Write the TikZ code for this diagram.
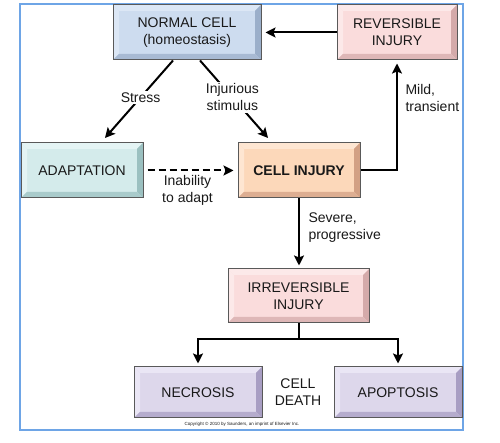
\documentclass[tikz,border=0pt]{standalone}
\usepackage{fontspec}
\setmainfont{Liberation Sans}
\usetikzlibrary{arrows.meta}
\definecolor{frameblue}{RGB}{110,165,230}
\definecolor{blueface}{RGB}{205,220,239}
\definecolor{bluelight}{RGB}{220,231,245}
\definecolor{bluedark}{RGB}{155,175,202}
\definecolor{pinkface}{RGB}{250,220,220}
\definecolor{pinklight}{RGB}{252,233,233}
\definecolor{pinkdark}{RGB}{212,170,170}
\definecolor{tealface}{RGB}{212,235,235}
\definecolor{teallight}{RGB}{228,244,244}
\definecolor{tealdark}{RGB}{155,192,192}
\definecolor{orangeface}{RGB}{252,216,186}
\definecolor{orangelight}{RGB}{254,230,210}
\definecolor{orangedark}{RGB}{210,160,132}
\definecolor{purpleface}{RGB}{221,215,235}
\definecolor{purplelight}{RGB}{234,230,245}
\definecolor{purpledark}{RGB}{168,158,195}
\definecolor{txt}{RGB}{25,25,25}
\tikzset{
  bevelbox/.style n args={3}{draw=black!65, line width=1pt, fill=#1, text=txt,
    align=center, inner sep=0pt, font=\fontsize{14}{17}\selectfont,
    path picture={
      \fill[#2] (path picture bounding box.north west) -- (path picture bounding box.north east)
        -- ([shift={(-6pt,-6pt)}]path picture bounding box.north east)
        -- ([shift={(6pt,-6pt)}]path picture bounding box.north west) -- cycle;
      \fill[#2] (path picture bounding box.north west) -- ([shift={(6pt,-6pt)}]path picture bounding box.north west)
        -- ([shift={(6pt,6pt)}]path picture bounding box.south west)
        -- (path picture bounding box.south west) -- cycle;
      \fill[#3] (path picture bounding box.north east) -- (path picture bounding box.south east)
        -- ([shift={(-6pt,6pt)}]path picture bounding box.south east)
        -- ([shift={(-6pt,-6pt)}]path picture bounding box.north east) -- cycle;
      \fill[#3!75!#1] (path picture bounding box.south west) -- (path picture bounding box.south east)
        -- ([shift={(-6pt,6pt)}]path picture bounding box.south east)
        -- ([shift={(6pt,6pt)}]path picture bounding box.south west) -- cycle;
    }},
  lbl/.style={font=\fontsize{14}{17}\selectfont, text=txt, align=center, inner sep=1.5pt},
  lblw/.style={lbl, fill=white},
  arr/.style={-{Stealth[length=10pt,width=10pt,inset=2pt]}, line width=2pt},
  conn/.style={line width=2pt}
}
\begin{document}
\begin{tikzpicture}[x=1pt,y=1pt]
\useasboundingbox (0,0) rectangle (500,443);
\fill[white] (0,0) rectangle (500,443);
\draw[frameblue, line width=1.5pt] (20,13) rectangle (463,439);

\node[bevelbox={blueface}{bluelight}{bluedark}, minimum width=148pt, minimum height=55pt] (normal) at (187,410.5) {NORMAL CELL\\(homeostasis)};
\node[bevelbox={pinkface}{pinklight}{pinkdark}, minimum width=120pt, minimum height=55pt] (rev) at (397,410.5) {REVERSIBLE\\INJURY};
\node[bevelbox={tealface}{teallight}{tealdark}, minimum width=122pt, minimum height=55pt] (adapt) at (82,272.5) {ADAPTATION};
\node[bevelbox={orangeface}{orangelight}{orangedark}, minimum width=122pt, minimum height=55pt, font=\fontsize{14}{17}\selectfont\bfseries] (inj) at (299,272.5) {CELL INJURY};
\node[bevelbox={pinkface}{pinklight}{pinkdark}, minimum width=141pt, minimum height=54pt] (irrev) at (298.5,147) {IRREVERSIBLE\\INJURY};
\node[bevelbox={purpleface}{purplelight}{purpledark}, minimum width=128pt, minimum height=51pt] (necro) at (198,50.5) {NECROSIS};
\node[bevelbox={purpleface}{purplelight}{purpledark}, minimum width=128pt, minimum height=51pt] (apop) at (398,50.5) {APOPTOSIS};
\node[lbl] (death) at (298,51) {CELL\\DEATH};
\node[font=\fontsize{4.5}{5}\selectfont, text=txt] (copy) at (242,19) {Copyright © 2010 by Saunders, an imprint of Elsevier Inc.};

\draw[arr, shorten >=4pt] (rev) -- (normal);
\draw[arr, shorten >=6pt] ([xshift=-14pt]normal.south) -- node[lblw, pos=0.45] {Stress} ([xshift=19pt]adapt.north);
\draw[arr, shorten >=6pt] ([xshift=13pt]normal.south) -- node[lblw, pos=0.45] {Injurious\\stimulus} ([xshift=-27pt]inj.north);
\draw[arr, shorten >=3pt] (inj.east) -| node[lbl, pos=0.83, right, xshift=6pt, align=left] {Mild,\\transient} (rev.south);
\draw[arr, dash pattern=on 7pt off 4pt, shorten <=4pt, shorten >=4pt] (adapt.east) -- node[lbl, below, yshift=-2pt, xshift=-3pt] {Inability\\to adapt} (inj.west);
\draw[arr, shorten >=3pt] (inj.south) -- node[lbl, pos=0.42, right, xshift=7pt, align=left] {Severe,\\progressive} (inj.south |- irrev.north);
\coordinate (split) at ([yshift=-16pt]irrev.south);
\draw[conn] (irrev.south) -- (split);
\draw[arr, shorten >=3pt] (split) -| (necro.north);
\draw[arr, shorten >=3pt] (split) -| (apop.north);
\end{tikzpicture}
\end{document}
